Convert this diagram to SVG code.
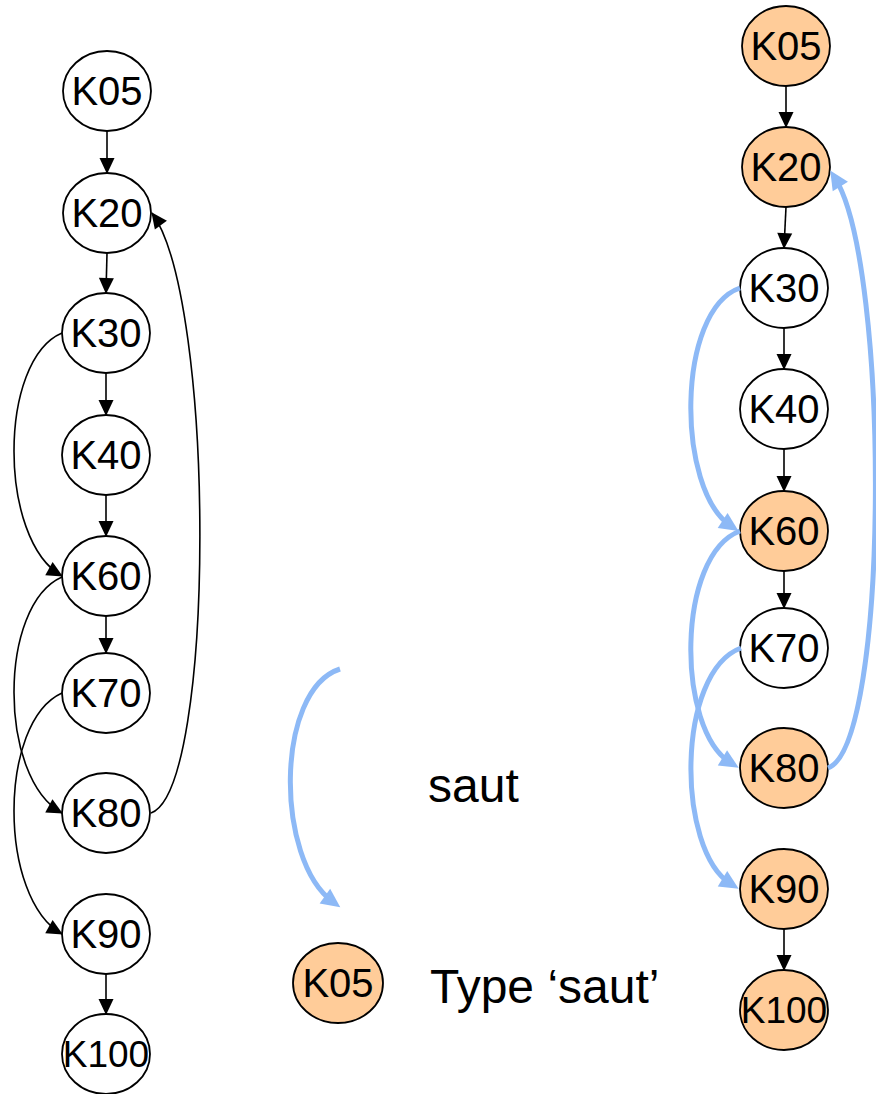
<svg xmlns="http://www.w3.org/2000/svg" width="876" height="1094" viewBox="0 0 876 1094">
<style>
.n{fill:#fff;stroke:#000;stroke-width:1.8}
.s{fill:#FFCC99;stroke:#000;stroke-width:1.8}
.t{font-family:"Liberation Sans",Arial,sans-serif;font-size:40px;text-anchor:middle;fill:#000}
.t2{font-family:"Liberation Sans",Arial,sans-serif;font-size:37px;text-anchor:middle;fill:#000}
.lg{font-family:"Liberation Sans",Arial,sans-serif;font-size:48px;fill:#000}
.c{fill:none;stroke:#000;stroke-width:1.6}
.b{fill:none;stroke:#8DB9F6;stroke-width:5}
</style>
<defs>
<marker id="ah" markerUnits="userSpaceOnUse" markerWidth="16" markerHeight="16" refX="15" refY="7.5" orient="auto" overflow="visible">
<path d="M0,0 L16,7.5 L0,15 z" fill="#000"/>
</marker>
<marker id="bh" markerUnits="userSpaceOnUse" markerWidth="20" markerHeight="20" refX="10" refY="9" orient="auto" overflow="visible">
<path d="M0,0 L19,9 L0,18 z" fill="#8DB9F6"/>
</marker>
</defs>
<g id="left-nodes">
<g id="L-K05"><ellipse class="n" cx="107" cy="91" rx="44" ry="40"/><text class="t" x="107" y="105">K05</text></g>
<g id="L-K20"><ellipse class="n" cx="107" cy="213" rx="44" ry="40"/><text class="t" x="107" y="227">K20</text></g>
<g id="L-K30"><ellipse class="n" cx="106" cy="333" rx="44" ry="40"/><text class="t" x="106" y="347">K30</text></g>
<g id="L-K40"><ellipse class="n" cx="106" cy="455" rx="44" ry="40"/><text class="t" x="106" y="469">K40</text></g>
<g id="L-K60"><ellipse class="n" cx="106" cy="576" rx="44" ry="40"/><text class="t" x="106" y="590">K60</text></g>
<g id="L-K70"><ellipse class="n" cx="106" cy="693" rx="44" ry="40"/><text class="t" x="106" y="707">K70</text></g>
<g id="L-K80"><ellipse class="n" cx="106" cy="813" rx="44" ry="40"/><text class="t" x="106" y="827">K80</text></g>
<g id="L-K90"><ellipse class="n" cx="106" cy="934" rx="44" ry="40"/><text class="t" x="106" y="948">K90</text></g>
<g id="L-K100"><ellipse class="n" cx="106" cy="1054" rx="44" ry="40"/><text class="t2" x="106" y="1067">K100</text></g>
</g>
<g id="right-nodes">
<g id="R-K05"><ellipse class="s" cx="786" cy="46" rx="44" ry="40"/><text class="t" x="786" y="60">K05</text></g>
<g id="R-K20"><ellipse class="s" cx="786" cy="167" rx="44" ry="40"/><text class="t" x="786" y="181">K20</text></g>
<g id="R-K30"><ellipse class="n" cx="784" cy="288" rx="44" ry="40"/><text class="t" x="784" y="302">K30</text></g>
<g id="R-K40"><ellipse class="n" cx="784" cy="409" rx="44" ry="40"/><text class="t" x="784" y="423">K40</text></g>
<g id="R-K60"><ellipse class="s" cx="784" cy="531" rx="44" ry="40"/><text class="t" x="784" y="545">K60</text></g>
<g id="R-K70"><ellipse class="n" cx="784" cy="648" rx="44" ry="40"/><text class="t" x="784" y="662">K70</text></g>
<g id="R-K80"><ellipse class="s" cx="784" cy="768" rx="44" ry="40"/><text class="t" x="784" y="782">K80</text></g>
<g id="R-K90"><ellipse class="s" cx="784" cy="889" rx="44" ry="40"/><text class="t" x="784" y="903">K90</text></g>
<g id="R-K100"><ellipse class="s" cx="784" cy="1010" rx="44" ry="40"/><text class="t2" x="784" y="1023">K100</text></g>
</g>
<g id="connectors">
<path class="c" marker-end="url(#ah)" d="M107,131 L107,173"/>
<path class="c" marker-end="url(#ah)" d="M107,253 L106,293"/>
<path class="c" marker-end="url(#ah)" d="M106,373 L106,415"/>
<path class="c" marker-end="url(#ah)" d="M106,495 L106,536"/>
<path class="c" marker-end="url(#ah)" d="M106,616 L106,653"/>
<path class="c" marker-end="url(#ah)" d="M106,974 L106,1014"/>
<path class="c" marker-end="url(#ah)" d="M62,333 C-2,360 -2,540 62,576"/>
<path class="c" marker-end="url(#ah)" d="M62,577 C-2,605 -2,778 62,813"/>
<path class="c" marker-end="url(#ah)" d="M62,693 C-2,722 -2,898 62,934"/>
<path class="c" marker-end="url(#ah)" d="M151,813 C216,790 216,300 152,213"/>
<path class="c" marker-end="url(#ah)" d="M786,86 L786,127"/>
<path class="c" marker-end="url(#ah)" d="M786,207 L784,248"/>
<path class="c" marker-end="url(#ah)" d="M784,328 L784,369"/>
<path class="c" marker-end="url(#ah)" d="M784,449 L784,491"/>
<path class="c" marker-end="url(#ah)" d="M784,571 L784,608"/>
<path class="c" marker-end="url(#ah)" d="M784,929 L784,970"/>
<path class="b" marker-end="url(#bh)" d="M740,288 C676,310 676,490 731,526"/>
<path class="b" marker-end="url(#bh)" d="M740,531 C676,555 676,730 731,763"/>
<path class="b" marker-end="url(#bh)" d="M741,648 C676,672 676,850 731,884"/>
<path class="b" marker-end="url(#bh)" d="M828,768 C890,745 890,265 835,178"/>
</g>
<g id="legend">
<path class="b" marker-end="url(#bh)" d="M340,669 C275,690 275,860 333,902"/>
<text class="lg" x="428" y="802">saut</text>
<g id="legend-node"><ellipse class="s" cx="338" cy="983" rx="45" ry="40"/><text class="t" x="338" y="997">K05</text></g>
<text class="lg" x="430" y="1003">Type ‘saut’</text>
</g>
</svg>
